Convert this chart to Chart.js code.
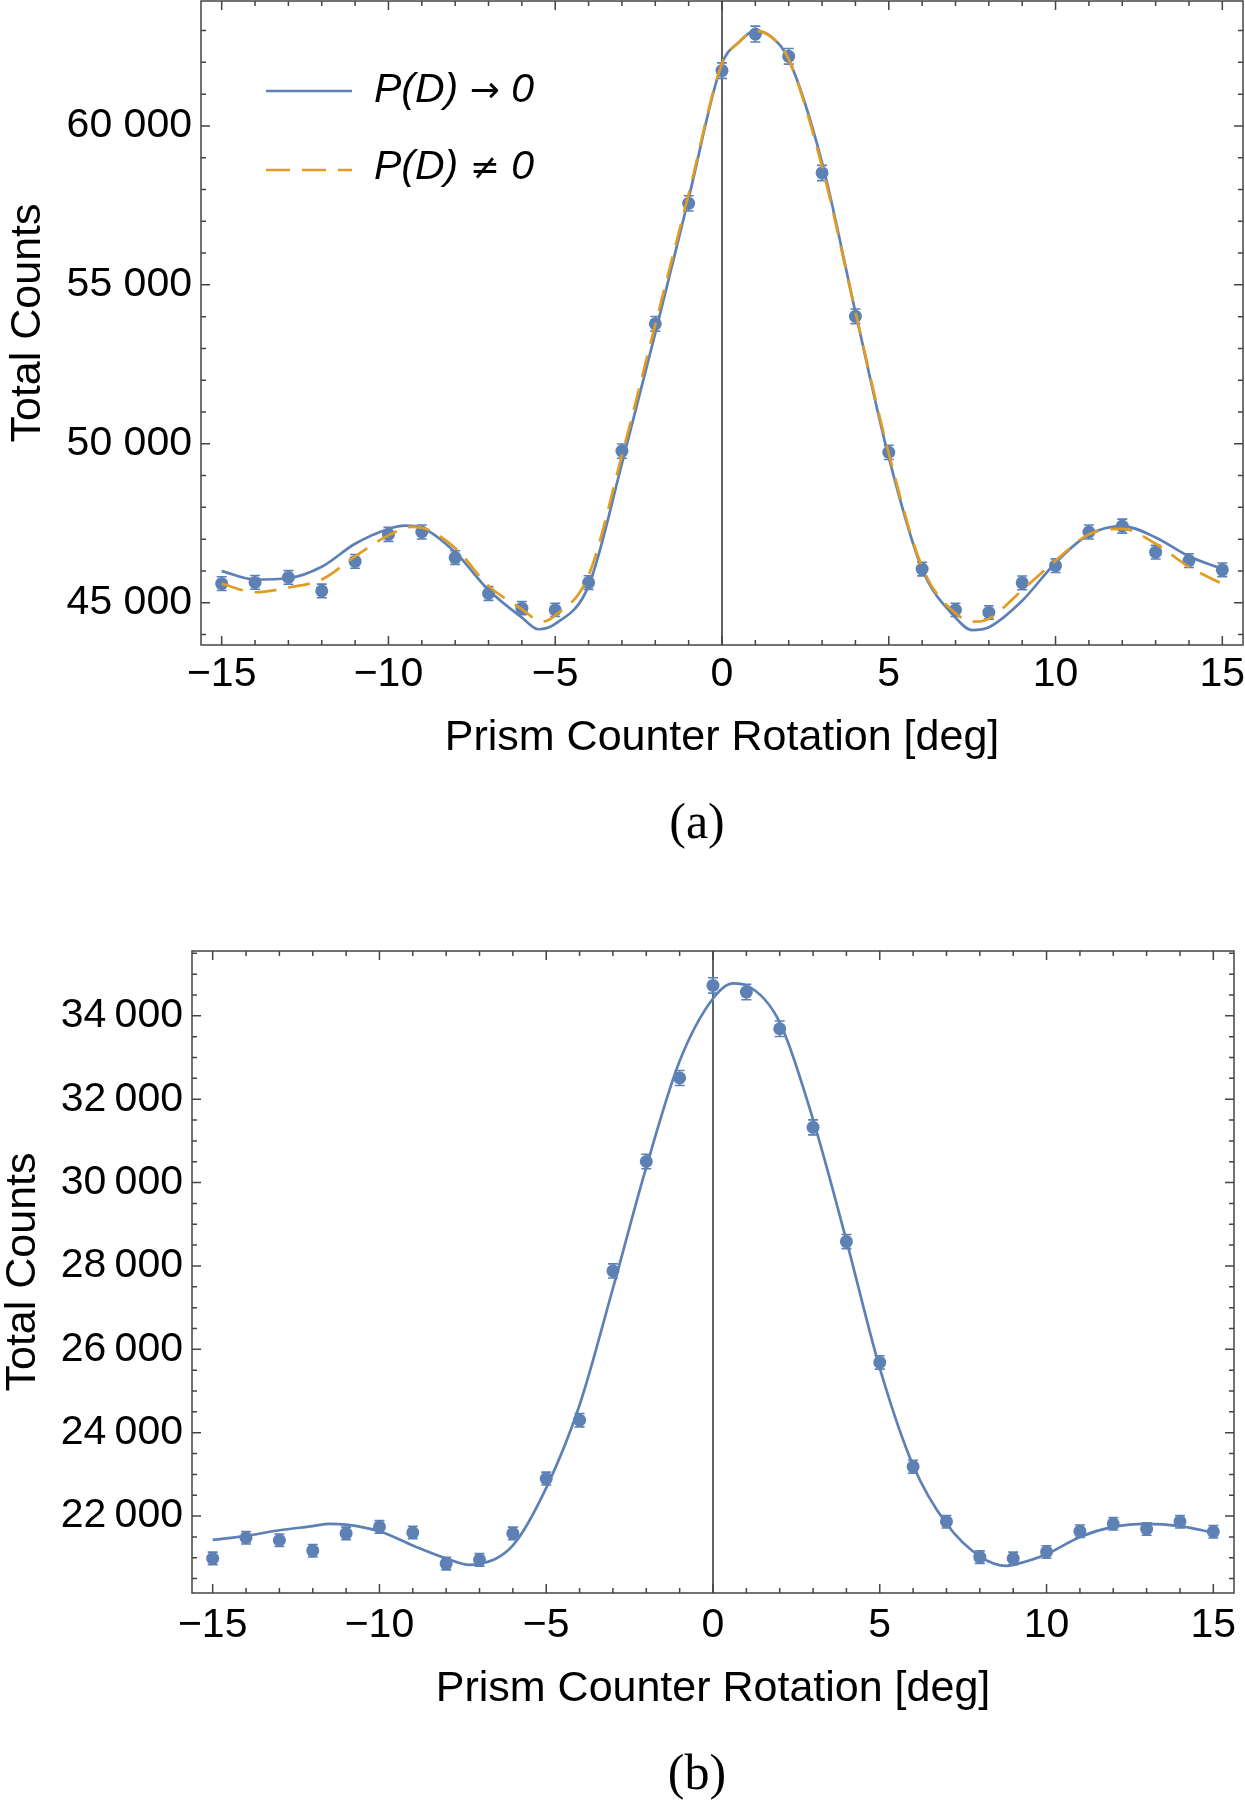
<!DOCTYPE html>
<html>
<head>
<meta charset="utf-8">
<script src="https://cdn.jsdelivr.net/npm/chart.js@4.4.1/dist/chart.umd.min.js"></script>
<style>
  html, body { margin: 0; padding: 0; background: #fff; }
  body { width: 1245px; height: 1800px; position: relative; overflow: hidden; font-family: "Liberation Sans", Arial, sans-serif; }
  .box { position: absolute; left: 0; width: 1245px; }
  #boxA { top: 0; height: 764px; }
  #boxB { top: 940px; height: 775px; }
  .caption { position: absolute; font-family: "Liberation Serif", "Times New Roman", serif; font-size: 50px; line-height: 50px; transform: translateX(-50%); color: #000; }
  .leg { position: absolute; font-style: italic; font-size: 41px; line-height: 41px; white-space: nowrap; color: #000; }
  .leg .sym { font-family: "DejaVu Sans", sans-serif; font-size: 36px; }
  .legline { position: absolute; left: 0; top: 0; }
</style>
</head>
<body>
<div class="box" id="boxA"><canvas id="chartA"></canvas></div>
<div class="box" id="boxB"><canvas id="chartB"></canvas></div>

<!-- legend of plot (a) -->
<svg class="legline" width="400" height="200">
  <line x1="266" y1="91" x2="352" y2="91" stroke="#5E81B5" stroke-width="2.6"/>
  <line x1="266" y1="170" x2="352" y2="170" stroke="#E19C24" stroke-width="2.6" stroke-dasharray="24 12"/>
</svg>
<div class="leg" style="left:374px;top:68px">P(D) <span class="sym">→</span> 0</div>
<div class="leg" style="left:374px;top:145px">P(D) <span class="sym">≠</span> 0</div>

<div class="caption" style="left:697px;top:796px">(a)</div>
<div class="caption" style="left:697px;top:1747px">(b)</div>

<script>
// Measured angles (deg)
const angles = [-15, -14, -13, -12, -11, -10, -9, -8, -7, -6, -5, -4, -3, -2, -1, 0,
                1, 2, 3, 4, 5, 6, 7, 8, 9, 10, 11, 12, 13, 14, 15];

// (a) data points and error bars
const countsA = [45600, 45640, 45795, 45370, 46300, 47150, 47225, 46420, 45290, 44830, 44775, 45635, 49770, 53775, 57565, 61740,
                 62890, 62190, 58520, 54010, 49730, 46060, 44775, 44695, 45625, 46165, 47225, 47410, 46590, 46325, 46035];
const errA = [215, 215, 215, 215, 215, 220, 220, 215, 215, 210, 210, 215, 225, 230, 240, 245,
              250, 245, 240, 230, 225, 215, 210, 210, 215, 215, 220, 220, 215, 215, 215];

// (a) fit P(D) -> 0 (blue, solid)
const fitABlueX = [-15, -14, -13, -12, -11, -10, -9.5, -9, -8, -7, -6, -5.5, -5, -4, -3, -2, -1, 0,
                   0.5, 1, 1.5, 2, 3, 4, 5, 6, 7, 7.5, 8, 9, 10, 11, 12, 13, 14, 15];
const fitABlueY = [45995, 45730, 45770, 46130, 46855, 47320, 47425, 47360, 46590, 45400, 44535, 44165, 44335, 45530, 49375, 53480, 57725, 61960,
                   62625, 62995, 62780, 62095, 58850, 54145, 49570, 46060, 44535, 44140, 44230, 45065, 46260, 47145, 47410, 47055, 46460, 46060];

// (a) fit P(D) != 0 (orange, dashed)
const fitAOrangeX = [-15, -14, -13, -12, -11, -10, -9.3, -9, -8, -7, -6, -5.4, -5, -4, -3, -2, -1, 0,
                     0.5, 1, 1.5, 2, 3, 4, 5, 6, 7, 7.6, 8, 9, 10, 11, 12, 13, 14, 15];
const fitAOrangeY = [45595, 45330, 45480, 45730, 46460, 47120, 47385, 47360, 46720, 45530, 44800, 44405, 44600, 45860, 49640, 53750, 57855, 61960,
                     62625, 62995, 62780, 62095, 58720, 54145, 49700, 46125, 44665, 44405, 44500, 45395, 46325, 47150, 47325, 46855, 46125, 45595];

// (b) data points and error bars
const countsB = [20985, 21480, 21420, 21170, 21585, 21740, 21605, 20860, 20950, 21585, 22900, 24300, 27880, 30505, 32510, 34730,
                 34570, 33690, 31325, 28585, 25685, 23185, 21865, 21015, 20985, 21140, 21635, 21815, 21690, 21865, 21625];
const errB = [150, 150, 150, 150, 150, 150, 150, 150, 150, 150, 155, 160, 170, 175, 180, 185,
              185, 185, 180, 170, 160, 155, 150, 150, 150, 150, 150, 150, 150, 150, 150];

// (b) fit (blue, solid)
const fitBX = [-15, -14, -13, -12, -11.5, -11, -10, -9, -8, -7.3, -7, -6, -5, -4, -3, -2, -1, 0,
               0.6, 1, 2, 3, 4, 5, 6, 7, 8, 8.8, 9, 10, 11, 12, 13, 14, 15];
const fitBY = [21430, 21525, 21660, 21760, 21815, 21795, 21635, 21295, 20985, 20830, 20850, 21295, 22675, 24665, 27465, 30370, 32915, 34415,
               34780, 34730, 33845, 31510, 28610, 25550, 23215, 21815, 21035, 20805, 20830, 21085, 21500, 21740, 21815, 21760, 21605];

// Ticks
const xTicks = [-15, -10, -5, 0, 5, 10, 15];
const xTickLabels = ['\u221215', '\u221210', '\u22125', '0', '5', '10', '15'];
const yTicksA = [45000, 50000, 55000, 60000];
const yTickLabelsA = ['45 000', '50 000', '55 000', '60 000'];
const yTicksB = [22000, 24000, 26000, 28000, 30000, 32000, 34000];
const yTickLabelsB = ['22\u2009000', '24\u2009000', '26\u2009000', '28\u2009000', '30\u2009000', '32\u2009000', '34\u2009000'];

const BLUE = '#5E81B5';
const ORANGE = '#E19C24';
const FRAME = '#444444';
const tickFont = { family: '"Liberation Sans", Arial, sans-serif', size: 41, lineHeight: 1.2 };
const titleFont = { family: '"Liberation Sans", Arial, sans-serif', size: 43, lineHeight: 1.2 };

// Frame, inward ticks, zero line and error bars (Mathematica style)
const frameTicks = {
    id: 'frameTicks',
    beforeDatasetsDraw(chart, args, o) {
        const { ctx, chartArea: a, scales: { x, y } } = chart;
        ctx.save();
        // vertical line at 0
        const x0 = x.getPixelForValue(0);
        ctx.strokeStyle = '#222';
        ctx.lineWidth = 1.4;
        ctx.beginPath();
        ctx.moveTo(x0, a.top);
        ctx.lineTo(x0, a.bottom);
        ctx.stroke();
        // error bars
        ctx.strokeStyle = BLUE;
        ctx.lineWidth = 1.6;
        o.values.forEach((v, i) => {
            const px = x.getPixelForValue(angles[i]);
            const y1 = y.getPixelForValue(v - o.errors[i]);
            const y2 = y.getPixelForValue(v + o.errors[i]);
            ctx.beginPath();
            ctx.moveTo(px, y1); ctx.lineTo(px, y2);
            ctx.moveTo(px - 5, y1); ctx.lineTo(px + 5, y1);
            ctx.moveTo(px - 5, y2); ctx.lineTo(px + 5, y2);
            ctx.stroke();
        });
        ctx.restore();
    },
    afterDraw(chart, args, o) {
        const { ctx, chartArea: a, scales: { x, y } } = chart;
        ctx.save();
        ctx.strokeStyle = FRAME;
        ctx.lineWidth = 1.5;
        ctx.strokeRect(a.left, a.top, a.right - a.left, a.bottom - a.top);
        ctx.beginPath();
        // x ticks, bottom and top
        for (let v = Math.ceil(x.min); v <= x.max; v += 1) {
            const len = (v % 5 === 0) ? 9 : 5;
            const px = x.getPixelForValue(v);
            ctx.moveTo(px, a.bottom); ctx.lineTo(px, a.bottom - len);
            ctx.moveTo(px, a.top); ctx.lineTo(px, a.top + len);
        }
        // y ticks, left and right
        for (let v = Math.ceil(y.min / o.yMinor) * o.yMinor; v <= y.max; v += o.yMinor) {
            const len = (v % o.yMajor === 0) ? 9 : 5;
            const py = y.getPixelForValue(v);
            ctx.moveTo(a.left, py); ctx.lineTo(a.left + len, py);
            ctx.moveTo(a.right, py); ctx.lineTo(a.right - len, py);
        }
        ctx.stroke();
        ctx.restore();
    }
};

function toPoints(xs, ys) {
    return xs.map((v, i) => ({ x: v, y: ys[i] }));
}

function fitDataset(xs, ys, color, dash, order) {
    return {
        type: 'line',
        data: toPoints(xs, ys),
        borderColor: color,
        borderWidth: 2.7,
        borderDash: dash,
        pointRadius: 0,
        fill: false,
        showLine: true,
        cubicInterpolationMode: 'monotone',
        order: order
    };
}

// no automatic padding around the plot frame: keep the frame where it is
function noPadding(s) {
    s.paddingTop = 0;
    s.paddingBottom = 0;
    s.paddingLeft = 0;
    s.paddingRight = 0;
}

function buildChart(id, o) {
    const datasets = [{
        type: 'scatter',
        data: toPoints(angles, o.values),
        pointRadius: 6.5,
        pointBackgroundColor: BLUE,
        pointBorderWidth: 0,
        showLine: false,
        order: 10
    }].concat(o.fits);

    return new Chart(document.getElementById(id), {
        type: 'scatter',
        data: { datasets: datasets },
        options: {
            responsive: true,
            maintainAspectRatio: false,
            animation: false,
            layout: { autoPadding: false, padding: o.padding },
            plugins: {
                legend: { display: false },
                tooltip: { enabled: false },
                frameTicks: { values: o.values, errors: o.errors, yMinor: o.yMinor, yMajor: o.yMajor }
            },
            scales: {
                x: {
                    type: 'linear',
                    min: -15.62,
                    max: 15.62,
                    afterBuildTicks: s => { s.ticks = xTicks.map(v => ({ value: v })); },
                    afterFit: s => { s.height = o.xAxisHeight; noPadding(s); },
                    grid: { display: false, drawTicks: false },
                    border: { display: false },
                    ticks: {
                        font: tickFont, color: '#000', padding: o.xPad,
                        maxRotation: 0, autoSkip: false,
                        callback: (v, i) => xTickLabels[i]
                    },
                    title: {
                        display: true, text: 'Prism Counter Rotation [deg]',
                        font: titleFont, color: '#000', padding: { top: 0, bottom: 0 }
                    }
                },
                y: {
                    type: 'linear',
                    min: o.yMin,
                    max: o.yMax,
                    afterBuildTicks: s => { s.ticks = o.yTicks.map(v => ({ value: v })); },
                    afterFit: s => { s.width = o.yAxisWidth; noPadding(s); },
                    grid: { display: false, drawTicks: false },
                    border: { display: false },
                    ticks: {
                        font: tickFont, color: '#000', padding: 9, autoSkip: false,
                        callback: (v, i) => o.yLabels[i]
                    },
                    title: {
                        display: true, text: 'Total Counts',
                        font: { family: titleFont.family, size: 43, lineHeight: 1.0 },
                        color: '#000', padding: { top: o.yTitlePad, bottom: 0 }
                    }
                }
            }
        },
        plugins: [frameTicks]
    });
}

// Plot (a)
buildChart('chartA', {
    values: countsA,
    errors: errA,
    fits: [
        fitDataset(fitABlueX, fitABlueY, BLUE, [], 2),
        fitDataset(fitAOrangeX, fitAOrangeY, ORANGE, [22, 12], 1)
    ],
    yMin: 43670, yMax: 63930,
    yTicks: yTicksA, yLabels: yTickLabelsA,
    yMinor: 1000, yMajor: 5000,
    padding: { left: 0, right: 2, top: 1, bottom: 0 },
    xAxisHeight: 119, yAxisWidth: 201,
    xPad: 5, yTitlePad: 7
});

// Plot (b)
buildChart('chartB', {
    values: countsB,
    errors: errB,
    fits: [fitDataset(fitBX, fitBY, BLUE, [], 2)],
    yMin: 20155, yMax: 35555,
    yTicks: yTicksB, yLabels: yTickLabelsB,
    yMinor: 500, yMajor: 2000,
    padding: { left: 0, right: 11, top: 11, bottom: 0 },
    xAxisHeight: 122, yAxisWidth: 192,
    xPad: 8, yTitlePad: 1.5
});
</script>
</body>
</html>
